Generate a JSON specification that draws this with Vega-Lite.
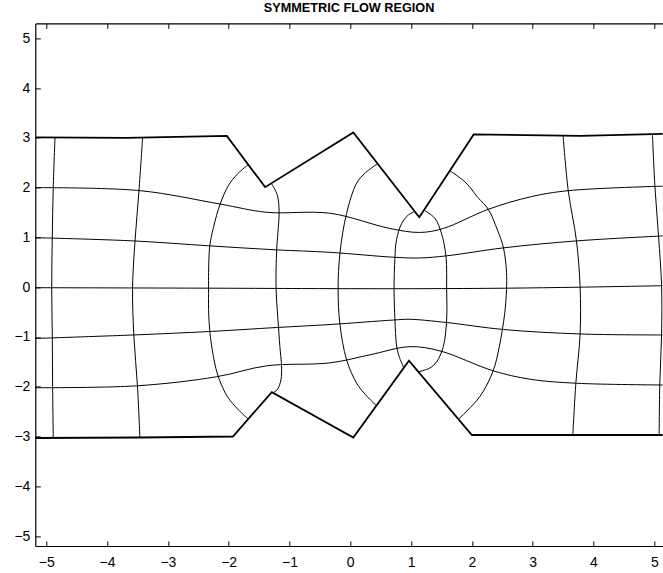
{
  "$schema": "https://vega.github.io/schema/vega-lite/v6.json",
  "autosize": {"type": "none"},
  "padding": {"left": 35.3, "top": 23.4, "right": 0, "bottom": 27},
  "width": 627.5,
  "height": 522.6,
  "background": "white",
  "config": {
    "view": {"stroke": null},
    "font": "Liberation Sans",
    "axis": {
      "grid": false,
      "domainColor": "#000",
      "domainWidth": 1.2,
      "tickColor": "#000",
      "tickWidth": 1,
      "tickSize": -5,
      "labelColor": "#000",
      "labelFont": "Liberation Sans",
      "labelFontSize": 14,
      "title": null
    }
  },
  "title": {
    "text": "SYMMETRIC FLOW REGION",
    "font": "Liberation Sans",
    "fontSize": 12.7,
    "fontWeight": "bold",
    "color": "#000",
    "anchor": "middle",
    "offset": 8
  },
  "data": {
    "values": [
      {"g": "btop", "k": "b", "o": 1, "x": -5.18, "y": 3.01},
      {"g": "btop", "k": "b", "o": 2, "x": -3.68, "y": 3.0},
      {"g": "btop", "k": "b", "o": 3, "x": -2.03, "y": 3.04},
      {"g": "btop", "k": "b", "o": 4, "x": -1.40, "y": 2.01},
      {"g": "btop", "k": "b", "o": 5, "x": 0.05, "y": 3.11},
      {"g": "btop", "k": "b", "o": 6, "x": 1.135, "y": 1.405},
      {"g": "btop", "k": "b", "o": 7, "x": 2.03, "y": 3.07},
      {"g": "btop", "k": "b", "o": 8, "x": 3.78, "y": 3.04},
      {"g": "btop", "k": "b", "o": 9, "x": 5.14, "y": 3.08},

      {"g": "bbot", "k": "b", "o": 1, "x": -5.18, "y": -3.03},
      {"g": "bbot", "k": "b", "o": 2, "x": -3.46, "y": -3.02},
      {"g": "bbot", "k": "b", "o": 3, "x": -1.93, "y": -3.0},
      {"g": "bbot", "k": "b", "o": 4, "x": -1.29, "y": -2.11},
      {"g": "bbot", "k": "b", "o": 5, "x": 0.05, "y": -3.02},
      {"g": "bbot", "k": "b", "o": 6, "x": 0.965, "y": -1.477},
      {"g": "bbot", "k": "b", "o": 7, "x": 2.0, "y": -2.97},
      {"g": "bbot", "k": "b", "o": 8, "x": 3.66, "y": -2.97},
      {"g": "bbot", "k": "b", "o": 9, "x": 5.14, "y": -2.97},

      {"g": "h2", "k": "g", "o": 1, "x": -5.18, "y": 2.0},
      {"g": "h2", "k": "g", "o": 2, "x": -3.46, "y": 1.94},
      {"g": "h2", "k": "g", "o": 3, "x": -2.14, "y": 1.67},
      {"g": "h2", "k": "g", "o": 4, "x": -1.375, "y": 1.505},
      {"g": "h2", "k": "g", "o": 5, "x": -0.33, "y": 1.485},
      {"g": "h2", "k": "g", "o": 6, "x": 0.65, "y": 1.18},
      {"g": "h2", "k": "g", "o": 7, "x": 1.14, "y": 1.10},
      {"g": "h2", "k": "g", "o": 8, "x": 1.53, "y": 1.18},
      {"g": "h2", "k": "g", "o": 9, "x": 2.27, "y": 1.565},
      {"g": "h2", "k": "g", "o": 10, "x": 2.98, "y": 1.82},
      {"g": "h2", "k": "g", "o": 11, "x": 3.59, "y": 1.94},
      {"g": "h2", "k": "g", "o": 12, "x": 5.14, "y": 2.03},

      {"g": "h1", "k": "g", "o": 1, "x": -5.18, "y": 0.995},
      {"g": "h1", "k": "g", "o": 2, "x": -3.57, "y": 0.93},
      {"g": "h1", "k": "g", "o": 3, "x": -2.31, "y": 0.83},
      {"g": "h1", "k": "g", "o": 4, "x": -1.21, "y": 0.75},
      {"g": "h1", "k": "g", "o": 5, "x": -0.33, "y": 0.70},
      {"g": "h1", "k": "g", "o": 6, "x": 0.735, "y": 0.60},
      {"g": "h1", "k": "g", "o": 7, "x": 1.15, "y": 0.587},
      {"g": "h1", "k": "g", "o": 8, "x": 1.585, "y": 0.63},
      {"g": "h1", "k": "g", "o": 9, "x": 2.52, "y": 0.79},
      {"g": "h1", "k": "g", "o": 10, "x": 3.72, "y": 0.93},
      {"g": "h1", "k": "g", "o": 11, "x": 5.14, "y": 1.03},

      {"g": "h0", "k": "g", "o": 1, "x": -5.18, "y": -0.01},
      {"g": "h0", "k": "g", "o": 2, "x": -2.33, "y": -0.02},
      {"g": "h0", "k": "g", "o": 3, "x": 0.0, "y": -0.03},
      {"g": "h0", "k": "g", "o": 4, "x": 1.15, "y": -0.03},
      {"g": "h0", "k": "g", "o": 5, "x": 2.57, "y": -0.02},
      {"g": "h0", "k": "g", "o": 6, "x": 3.78, "y": 0.0},
      {"g": "h0", "k": "g", "o": 7, "x": 5.14, "y": 0.03},

      {"g": "hm1", "k": "g", "o": 1, "x": -5.18, "y": -1.03},
      {"g": "hm1", "k": "g", "o": 2, "x": -3.57, "y": -0.96},
      {"g": "hm1", "k": "g", "o": 3, "x": -2.31, "y": -0.89},
      {"g": "hm1", "k": "g", "o": 4, "x": -1.21, "y": -0.81},
      {"g": "hm1", "k": "g", "o": 5, "x": -0.33, "y": -0.75},
      {"g": "hm1", "k": "g", "o": 6, "x": 0.71, "y": -0.66},
      {"g": "hm1", "k": "g", "o": 7, "x": 0.98, "y": -0.645},
      {"g": "hm1", "k": "g", "o": 8, "x": 1.585, "y": -0.71},
      {"g": "hm1", "k": "g", "o": 9, "x": 2.52, "y": -0.85},
      {"g": "hm1", "k": "g", "o": 10, "x": 3.78, "y": -0.94},
      {"g": "hm1", "k": "g", "o": 11, "x": 5.14, "y": -0.96},

      {"g": "hm2", "k": "g", "o": 1, "x": -5.18, "y": -2.02},
      {"g": "hm2", "k": "g", "o": 2, "x": -3.49, "y": -1.98},
      {"g": "hm2", "k": "g", "o": 3, "x": -2.2, "y": -1.8},
      {"g": "hm2", "k": "g", "o": 4, "x": -1.375, "y": -1.58},
      {"g": "hm2", "k": "g", "o": 5, "x": -0.33, "y": -1.52},
      {"g": "hm2", "k": "g", "o": 6, "x": 0.32, "y": -1.36},
      {"g": "hm2", "k": "g", "o": 7, "x": 0.98, "y": -1.195},
      {"g": "hm2", "k": "g", "o": 8, "x": 1.475, "y": -1.28},
      {"g": "hm2", "k": "g", "o": 9, "x": 2.35, "y": -1.68},
      {"g": "hm2", "k": "g", "o": 10, "x": 2.96, "y": -1.85},
      {"g": "hm2", "k": "g", "o": 11, "x": 3.72, "y": -1.93},
      {"g": "hm2", "k": "g", "o": 12, "x": 5.14, "y": -1.965},

      {"g": "v1", "k": "g", "o": 1, "x": -4.856, "y": 3.01},
      {"g": "v1", "k": "g", "o": 2, "x": -4.885, "y": 2.0},
      {"g": "v1", "k": "g", "o": 3, "x": -4.901, "y": 1.0},
      {"g": "v1", "k": "g", "o": 4, "x": -4.91, "y": 0.0},
      {"g": "v1", "k": "g", "o": 5, "x": -4.90, "y": -1.0},
      {"g": "v1", "k": "g", "o": 6, "x": -4.895, "y": -2.0},
      {"g": "v1", "k": "g", "o": 7, "x": -4.885, "y": -3.02},

      {"g": "v2", "k": "g", "o": 1, "x": -3.415, "y": 3.01},
      {"g": "v2", "k": "g", "o": 2, "x": -3.475, "y": 1.94},
      {"g": "v2", "k": "g", "o": 3, "x": -3.54, "y": 0.93},
      {"g": "v2", "k": "g", "o": 4, "x": -3.58, "y": 0.0},
      {"g": "v2", "k": "g", "o": 5, "x": -3.56, "y": -0.96},
      {"g": "v2", "k": "g", "o": 6, "x": -3.50, "y": -1.98},
      {"g": "v2", "k": "g", "o": 7, "x": -3.46, "y": -3.02},

      {"g": "v3", "k": "g", "o": 1, "x": -1.68, "y": 2.46},
      {"g": "v3", "k": "g", "o": 2, "x": -1.85, "y": 2.28},
      {"g": "v3", "k": "g", "o": 3, "x": -2.0, "y": 2.05},
      {"g": "v3", "k": "g", "o": 4, "x": -2.14, "y": 1.67},
      {"g": "v3", "k": "g", "o": 5, "x": -2.25, "y": 1.2},
      {"g": "v3", "k": "g", "o": 6, "x": -2.31, "y": 0.83},
      {"g": "v3", "k": "g", "o": 7, "x": -2.33, "y": 0.3},
      {"g": "v3", "k": "g", "o": 8, "x": -2.33, "y": -0.02},
      {"g": "v3", "k": "g", "o": 9, "x": -2.33, "y": -0.45},
      {"g": "v3", "k": "g", "o": 10, "x": -2.31, "y": -0.89},
      {"g": "v3", "k": "g", "o": 11, "x": -2.25, "y": -1.4},
      {"g": "v3", "k": "g", "o": 12, "x": -2.17, "y": -1.8},
      {"g": "v3", "k": "g", "o": 13, "x": -2.02, "y": -2.2},
      {"g": "v3", "k": "g", "o": 14, "x": -1.85, "y": -2.45},
      {"g": "v3", "k": "g", "o": 15, "x": -1.68, "y": -2.65},

      {"g": "v4", "k": "g", "o": 1, "x": -1.30, "y": 2.09},
      {"g": "v4", "k": "g", "o": 2, "x": -1.2, "y": 1.85},
      {"g": "v4", "k": "g", "o": 3, "x": -1.17, "y": 1.505},
      {"g": "v4", "k": "g", "o": 4, "x": -1.19, "y": 1.1},
      {"g": "v4", "k": "g", "o": 5, "x": -1.21, "y": 0.75},
      {"g": "v4", "k": "g", "o": 6, "x": -1.22, "y": -0.02},
      {"g": "v4", "k": "g", "o": 7, "x": -1.18, "y": -0.81},
      {"g": "v4", "k": "g", "o": 8, "x": -1.15, "y": -1.3},
      {"g": "v4", "k": "g", "o": 9, "x": -1.13, "y": -1.58},
      {"g": "v4", "k": "g", "o": 10, "x": -1.14, "y": -1.86},
      {"g": "v4", "k": "g", "o": 11, "x": -1.2, "y": -2.06},
      {"g": "v4", "k": "g", "o": 12, "x": -1.27, "y": -2.12},

      {"g": "v5", "k": "g", "o": 1, "x": 0.45, "y": 2.48},
      {"g": "v5", "k": "g", "o": 2, "x": 0.25, "y": 2.3},
      {"g": "v5", "k": "g", "o": 3, "x": 0.105, "y": 2.09},
      {"g": "v5", "k": "g", "o": 4, "x": -0.06, "y": 1.485},
      {"g": "v5", "k": "g", "o": 5, "x": -0.17, "y": 0.68},
      {"g": "v5", "k": "g", "o": 6, "x": -0.2, "y": -0.04},
      {"g": "v5", "k": "g", "o": 7, "x": -0.17, "y": -0.745},
      {"g": "v5", "k": "g", "o": 8, "x": -0.06, "y": -1.46},
      {"g": "v5", "k": "g", "o": 9, "x": 0.105, "y": -1.93},
      {"g": "v5", "k": "g", "o": 10, "x": 0.25, "y": -2.16},
      {"g": "v5", "k": "g", "o": 11, "x": 0.43, "y": -2.38},

      {"g": "v6a", "k": "g", "o": 1, "x": 1.06, "y": 1.52},
      {"g": "v6a", "k": "g", "o": 2, "x": 0.955, "y": 1.45},
      {"g": "v6a", "k": "g", "o": 3, "x": 0.845, "y": 1.28},
      {"g": "v6a", "k": "g", "o": 4, "x": 0.76, "y": 0.95},
      {"g": "v6a", "k": "g", "o": 5, "x": 0.735, "y": 0.60},
      {"g": "v6a", "k": "g", "o": 6, "x": 0.72, "y": -0.04},
      {"g": "v6a", "k": "g", "o": 7, "x": 0.735, "y": -0.66},
      {"g": "v6a", "k": "g", "o": 8, "x": 0.76, "y": -1.16},
      {"g": "v6a", "k": "g", "o": 9, "x": 0.80, "y": -1.38},
      {"g": "v6a", "k": "g", "o": 10, "x": 0.88, "y": -1.62},

      {"g": "v6b", "k": "g", "o": 1, "x": 1.21, "y": 1.55},
      {"g": "v6b", "k": "g", "o": 2, "x": 1.39, "y": 1.385},
      {"g": "v6b", "k": "g", "o": 3, "x": 1.50, "y": 1.08},
      {"g": "v6b", "k": "g", "o": 4, "x": 1.575, "y": 0.61},
      {"g": "v6b", "k": "g", "o": 5, "x": 1.585, "y": -0.04},
      {"g": "v6b", "k": "g", "o": 6, "x": 1.585, "y": -0.66},
      {"g": "v6b", "k": "g", "o": 7, "x": 1.53, "y": -1.195},
      {"g": "v6b", "k": "g", "o": 8, "x": 1.42, "y": -1.50},
      {"g": "v6b", "k": "g", "o": 9, "x": 1.3, "y": -1.63},
      {"g": "v6b", "k": "g", "o": 10, "x": 1.12, "y": -1.70},

      {"g": "v7", "k": "g", "o": 1, "x": 1.64, "y": 2.34},
      {"g": "v7", "k": "g", "o": 2, "x": 1.9, "y": 2.1},
      {"g": "v7", "k": "g", "o": 3, "x": 2.1, "y": 1.8},
      {"g": "v7", "k": "g", "o": 4, "x": 2.27, "y": 1.565},
      {"g": "v7", "k": "g", "o": 5, "x": 2.42, "y": 1.15},
      {"g": "v7", "k": "g", "o": 6, "x": 2.52, "y": 0.79},
      {"g": "v7", "k": "g", "o": 7, "x": 2.57, "y": 0.3},
      {"g": "v7", "k": "g", "o": 8, "x": 2.57, "y": -0.04},
      {"g": "v7", "k": "g", "o": 9, "x": 2.54, "y": -0.525},
      {"g": "v7", "k": "g", "o": 10, "x": 2.45, "y": -1.2},
      {"g": "v7", "k": "g", "o": 11, "x": 2.35, "y": -1.68},
      {"g": "v7", "k": "g", "o": 12, "x": 2.13, "y": -2.2},
      {"g": "v7", "k": "g", "o": 13, "x": 1.78, "y": -2.65},

      {"g": "v8", "k": "g", "o": 1, "x": 3.50, "y": 3.04},
      {"g": "v8", "k": "g", "o": 2, "x": 3.585, "y": 1.94},
      {"g": "v8", "k": "g", "o": 3, "x": 3.72, "y": 0.93},
      {"g": "v8", "k": "g", "o": 4, "x": 3.78, "y": 0.01},
      {"g": "v8", "k": "g", "o": 5, "x": 3.78, "y": -0.94},
      {"g": "v8", "k": "g", "o": 6, "x": 3.71, "y": -1.93},
      {"g": "v8", "k": "g", "o": 7, "x": 3.66, "y": -2.97},

      {"g": "v9", "k": "g", "o": 1, "x": 4.97, "y": 3.06},
      {"g": "v9", "k": "g", "o": 2, "x": 5.01, "y": 2.03},
      {"g": "v9", "k": "g", "o": 3, "x": 5.07, "y": 1.03},
      {"g": "v9", "k": "g", "o": 4, "x": 5.12, "y": 0.03},
      {"g": "v9", "k": "g", "o": 5, "x": 5.12, "y": -0.96},
      {"g": "v9", "k": "g", "o": 6, "x": 5.09, "y": -1.965},
      {"g": "v9", "k": "g", "o": 7, "x": 5.08, "y": -2.97}
    ]
  },
  "resolve": {"axis": {"x": "independent", "y": "independent"}},
  "layer": [
    {
      "transform": [{"filter": "datum.k === 'g'"}],
      "mark": {"type": "line", "color": "#000", "strokeWidth": 1, "interpolate": "catmull-rom", "clip": true},
      "encoding": {
        "x": {"field": "x", "type": "quantitative", "scale": {"domain": [-5.18, 5.14], "nice": false, "zero": false},
              "axis": {"orient": "bottom", "values": [-5, -4, -3, -2, -1, 0, 1, 2, 3, 4, 5], "labelPadding": 14.7, "labelFlush": false}},
        "y": {"field": "y", "type": "quantitative", "scale": {"domain": [-5.2, 5.3], "nice": false, "zero": false},
              "axis": {"orient": "left", "values": [-5, -4, -3, -2, -1, 0, 1, 2, 3, 4, 5], "labelPadding": 10.4, "labelFlush": false}},
        "detail": {"field": "g"},
        "order": {"field": "o", "type": "quantitative"}
      }
    },
    {
      "transform": [{"filter": "datum.k === 'b'"}],
      "mark": {"type": "line", "color": "#000", "strokeWidth": 1.8, "clip": true},
      "encoding": {
        "x": {"field": "x", "type": "quantitative",
              "axis": {"orient": "top", "values": [-5, -4, -3, -2, -1, 0, 1, 2, 3, 4, 5], "labels": false}},
        "y": {"field": "y", "type": "quantitative", "axis": null},
        "detail": {"field": "g"},
        "order": {"field": "o", "type": "quantitative"}
      }
    }
  ]
}
